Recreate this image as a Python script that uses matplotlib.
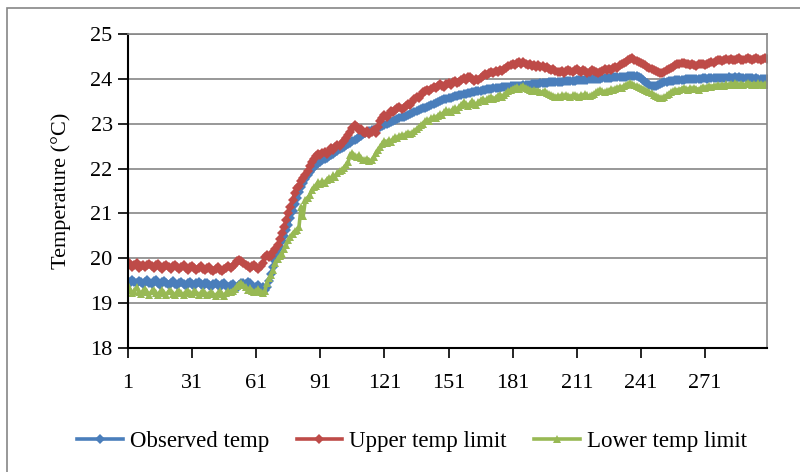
"""
Observed room temperature against the upper and lower comfort limits.

Excel-style line chart with a marker on every sample.
"""

import numpy as np
import matplotlib
matplotlib.use("Agg")
import matplotlib.pyplot as plt
from matplotlib.patches import Rectangle

# Sample index runs 1..300, labelled every 30 samples
x_tick_labels = ["1", "31", "61", "91", "121", "151", "181", "211", "241", "271"]
y_ticks = [18, 19, 20, 21, 22, 23, 24, 25]
series_names = ["Observed temp", "Upper temp limit", "Lower temp limit"]

observed_temp = [
    19.50, 19.45, 19.52, 19.48, 19.44, 19.50, 19.47, 19.42, 19.48, 19.51,
    19.46, 19.43, 19.49, 19.52, 19.45, 19.41, 19.47, 19.50, 19.44, 19.40,
    19.46, 19.49, 19.43, 19.40, 19.45, 19.48, 19.42, 19.39, 19.44, 19.47,
    19.43, 19.38, 19.45, 19.48, 19.42, 19.39, 19.44, 19.46, 19.41, 19.37,
    19.43, 19.46, 19.40, 19.36, 19.42, 19.44, 19.38, 19.35, 19.40, 19.43,
    19.37, 19.34, 19.40, 19.44, 19.46, 19.42, 19.48, 19.45, 19.38, 19.33,
    19.36, 19.40, 19.32, 19.35, 19.30, 19.35, 19.50, 19.65, 19.80, 19.95,
    20.10, 20.25, 20.38, 20.50, 20.62, 20.74, 20.90, 21.05, 21.20, 21.35,
    21.47, 21.58, 21.68, 21.77, 21.85, 21.92, 21.98, 22.04, 22.08, 22.12,
    22.15, 22.18, 22.21, 22.24, 22.27, 22.30, 22.33, 22.36, 22.40, 22.43,
    22.46, 22.49, 22.52, 22.55, 22.58, 22.61, 22.64, 22.67, 22.70, 22.73,
    22.76, 22.79, 22.81, 22.83, 22.85, 22.87, 22.89, 22.91, 22.93, 22.95,
    22.97, 23.00, 23.02, 23.04, 23.06, 23.08, 23.10, 23.12, 23.14, 23.16,
    23.18, 23.20, 23.22, 23.24, 23.26, 23.28, 23.30, 23.32, 23.34, 23.36,
    23.38, 23.40, 23.42, 23.44, 23.46, 23.48, 23.50, 23.52, 23.54, 23.56,
    23.57, 23.58, 23.60, 23.61, 23.62, 23.63, 23.64, 23.66, 23.67, 23.68,
    23.69, 23.70, 23.71, 23.72, 23.73, 23.74, 23.75, 23.76, 23.77, 23.78,
    23.78, 23.79, 23.79, 23.80, 23.80, 23.81, 23.81, 23.82, 23.82, 23.83,
    23.83, 23.84, 23.84, 23.85, 23.85, 23.86, 23.86, 23.87, 23.87, 23.88,
    23.88, 23.89, 23.89, 23.90, 23.90, 23.91, 23.91, 23.92, 23.92, 23.93,
    23.93, 23.93, 23.94, 23.94, 23.95, 23.95, 23.95, 23.96, 23.96, 23.96,
    23.97, 23.97, 23.97, 23.98, 23.98, 23.98, 23.99, 23.99, 23.99, 24.00,
    24.00, 24.00, 24.01, 24.01, 24.02, 24.02, 24.02, 24.03, 24.03, 24.04,
    24.04, 24.04, 24.05, 24.05, 24.06, 24.06, 24.07, 24.07, 24.06, 24.05,
    24.02, 23.98, 23.94, 23.90, 23.87, 23.85, 23.84, 23.85, 23.87, 23.89,
    23.91, 23.93, 23.94, 23.95, 23.96, 23.96, 23.97, 23.97, 23.98, 23.98,
    23.98, 23.99, 23.99, 23.99, 24.00, 24.00, 24.00, 23.99, 24.00, 24.01,
    24.01, 24.00, 24.01, 24.01, 24.02, 24.01, 24.02, 24.02, 24.01, 24.02,
    24.02, 24.03, 24.02, 24.02, 24.03, 24.02, 24.03, 24.02, 24.02, 24.01,
    24.02, 24.01, 24.01, 24.00, 24.01, 24.00, 24.00, 23.99, 24.00, 23.99,
]

upper_limit = [
    19.92, 19.88, 19.80, 19.85, 19.90, 19.78, 19.83, 19.86, 19.80, 19.84,
    19.88, 19.82, 19.78, 19.84, 19.87, 19.81, 19.76, 19.82, 19.85, 19.80,
    19.77, 19.83, 19.86, 19.80, 19.76, 19.81, 19.84, 19.79, 19.75, 19.80,
    19.83, 19.78, 19.74, 19.79, 19.82, 19.77, 19.73, 19.78, 19.81, 19.75,
    19.72, 19.77, 19.80, 19.74, 19.71, 19.76, 19.79, 19.82, 19.78, 19.83,
    19.88, 19.93, 19.97, 19.95, 19.90, 19.86, 19.82, 19.78, 19.83, 19.85,
    19.80, 19.76, 19.82, 19.90, 20.02, 20.08, 20.02, 20.06, 20.14, 20.20,
    20.30, 20.42, 20.56, 20.70, 20.85, 21.00, 21.15, 21.30, 21.45, 21.56,
    21.62, 21.72, 21.80, 21.85, 21.95, 22.05, 22.15, 22.22, 22.28, 22.32,
    22.30, 22.35, 22.38, 22.33, 22.40, 22.45, 22.42, 22.48, 22.52, 22.50,
    22.57, 22.62, 22.68, 22.75, 22.82, 22.90, 22.97, 22.92, 22.85, 22.88,
    22.82, 22.79, 22.84, 22.78, 22.82, 22.86, 22.80, 22.92, 23.05, 23.12,
    23.20, 23.15, 23.22, 23.28, 23.25, 23.30, 23.35, 23.38, 23.32, 23.36,
    23.40, 23.45, 23.42, 23.48, 23.55, 23.60, 23.58, 23.65, 23.70, 23.72,
    23.75, 23.74, 23.78, 23.82, 23.80, 23.84, 23.88, 23.85, 23.82, 23.88,
    23.90, 23.86, 23.92, 23.95, 23.90, 23.94, 23.98, 24.02, 23.98, 24.03,
    24.05, 24.00, 23.96, 23.99, 23.97, 24.02, 24.06, 24.10, 24.08, 24.12,
    24.15, 24.12, 24.18, 24.15, 24.20, 24.17, 24.22, 24.25, 24.28, 24.30,
    24.33, 24.30, 24.35, 24.37, 24.33, 24.37, 24.34, 24.30, 24.32, 24.28,
    24.30, 24.27, 24.30, 24.26, 24.28, 24.25, 24.27, 24.23, 24.20, 24.22,
    24.18, 24.16, 24.15, 24.18, 24.14, 24.17, 24.20, 24.18, 24.16, 24.19,
    24.21, 24.18, 24.16, 24.19, 24.17, 24.14, 24.16, 24.19, 24.17, 24.15,
    24.13, 24.15, 24.18, 24.21, 24.19, 24.22, 24.20, 24.24, 24.27, 24.25,
    24.30, 24.33, 24.36, 24.38, 24.42, 24.44, 24.46, 24.43, 24.40, 24.38,
    24.36, 24.33, 24.30, 24.27, 24.24, 24.22, 24.19, 24.17, 24.15, 24.14,
    24.13, 24.16, 24.19, 24.22, 24.25, 24.27, 24.30, 24.32, 24.34, 24.35,
    24.36, 24.34, 24.32, 24.30, 24.33, 24.31, 24.29, 24.32, 24.34, 24.32,
    24.30, 24.33, 24.36, 24.38, 24.36, 24.39, 24.41, 24.43, 24.40, 24.42,
    24.44, 24.42, 24.45, 24.43, 24.41, 24.44, 24.46, 24.43, 24.42, 24.44,
    24.46, 24.44, 24.43, 24.45, 24.47, 24.44, 24.42, 24.45, 24.46, 24.44,
]

lower_limit = [
    19.40, 19.30, 19.22, 19.28, 19.35, 19.25, 19.20, 19.27, 19.32, 19.24,
    19.19, 19.26, 19.30, 19.23, 19.18, 19.25, 19.29, 19.22, 19.19, 19.26,
    19.28, 19.21, 19.18, 19.24, 19.27, 19.22, 19.19, 19.25, 19.28, 19.23,
    19.20, 19.26, 19.24, 19.19, 19.22, 19.27, 19.23, 19.18, 19.21, 19.25,
    19.20, 19.16, 19.22, 19.26, 19.21, 19.17, 19.23, 19.27, 19.24, 19.28,
    19.32, 19.38, 19.42, 19.44, 19.40, 19.35, 19.30, 19.33, 19.28, 19.24,
    19.27, 19.31, 19.25, 19.22, 19.26, 19.45, 19.55, 19.62, 19.75, 19.90,
    19.98, 20.05, 20.10, 20.20, 20.30, 20.40, 20.48, 20.55, 20.60, 20.63,
    20.70, 21.15, 20.95, 21.30, 21.35, 21.40, 21.52, 21.58, 21.62, 21.70,
    21.66, 21.72, 21.68, 21.75, 21.80, 21.77, 21.85, 21.82, 21.90, 21.95,
    21.97, 22.02, 22.08, 22.15, 22.30, 22.35, 22.28, 22.25, 22.30, 22.23,
    22.20, 22.18, 22.22, 22.17, 22.19, 22.25, 22.35, 22.42, 22.48, 22.55,
    22.62, 22.58, 22.64, 22.60, 22.66, 22.70, 22.68, 22.72, 22.75, 22.73,
    22.76, 22.80, 22.78, 22.79, 22.84, 22.88, 22.92, 22.96, 23.00, 23.05,
    23.08, 23.06, 23.12, 23.15, 23.13, 23.18, 23.22, 23.20, 23.26, 23.30,
    23.28, 23.25, 23.32, 23.35, 23.30, 23.38, 23.42, 23.48, 23.45, 23.40,
    23.44, 23.50, 23.46, 23.42, 23.48, 23.52, 23.55, 23.50, 23.54, 23.57,
    23.60, 23.55, 23.58, 23.62, 23.65, 23.60, 23.64, 23.68, 23.72, 23.75,
    23.78, 23.80, 23.82, 23.78, 23.82, 23.84, 23.80, 23.78, 23.76, 23.74,
    23.75, 23.72, 23.74, 23.71, 23.70, 23.72, 23.68, 23.66, 23.64, 23.62,
    23.60, 23.62, 23.60, 23.63, 23.61, 23.64, 23.62, 23.60, 23.63, 23.65,
    23.62, 23.60, 23.64, 23.62, 23.66, 23.63, 23.61, 23.64, 23.67, 23.70,
    23.72, 23.75, 23.73, 23.70, 23.72, 23.74, 23.77, 23.75, 23.78, 23.80,
    23.82, 23.80, 23.84, 23.86, 23.88, 23.90, 23.88, 23.86, 23.84, 23.82,
    23.80, 23.78, 23.75, 23.72, 23.70, 23.68, 23.65, 23.62, 23.60, 23.58,
    23.57, 23.60, 23.63, 23.67, 23.70, 23.72, 23.75, 23.74, 23.76, 23.78,
    23.80, 23.78, 23.76, 23.79, 23.77, 23.80, 23.78, 23.76, 23.79, 23.81,
    23.80, 23.82, 23.84, 23.82, 23.85, 23.83, 23.86, 23.84, 23.87, 23.85,
    23.88, 23.86, 23.89, 23.87, 23.90, 23.88, 23.86, 23.89, 23.87, 23.88,
    23.90, 23.88, 23.86, 23.89, 23.87, 23.90, 23.88, 23.86, 23.88, 23.87,
]

# Excel 2007 default palette
colors = ["#4A7EBB", "#BE4B48", "#98B954"]
markers = ["D", "D", "^"]

plt.rcParams["font.family"] = ["Liberation Serif", "DejaVu Serif"]
plt.rcParams["font.size"] = 16

fig = plt.figure(figsize=(8, 4.72), dpi=100)
ax = fig.add_axes([0.16, 0.2627, 0.79875, 0.6653])

# Outer chart-area frame (only left/top edges are inside the image)
fig.patches.append(Rectangle((7 / 800, -0.05), 1.0, 1 - 8 / 472 + 0.05,
                             transform=fig.transFigure, fill=False,
                             edgecolor="#868686", lw=1.2))

sample = np.arange(1, len(observed_temp) + 1)
all_series = [observed_temp, upper_limit, lower_limit]

for name, values, color, marker in zip(series_names, all_series, colors, markers):
    ax.plot(sample, values, color=color, lw=2.6, marker=marker,
            markersize=5.2 if marker == "D" else 6.2,
            markeredgewidth=0, label=name)

ax.set_xlim(1, len(observed_temp))
ax.set_ylim(y_ticks[0], y_ticks[-1])
ax.set_yticks(y_ticks)
ax.set_xticks([int(t) for t in x_tick_labels])
ax.set_xticklabels(x_tick_labels)

ax.grid(axis="y", color="#868686", lw=1.2)
ax.set_axisbelow(True)

for side in ["top", "right"]:
    ax.spines[side].set_color("#868686")
    ax.spines[side].set_linewidth(1.2)
for side in ["left", "bottom"]:
    ax.spines[side].set_color("black")
    ax.spines[side].set_linewidth(1.5)

ax.tick_params(axis="both", direction="out", length=7, width=1.2)
ax.tick_params(axis="x", pad=12)
ax.tick_params(axis="y", pad=4)
ax.set_ylabel("Temperature (°C)", labelpad=14)

fig.legend(loc="center", bbox_to_anchor=(0.515, 1 - 441 / 472), ncol=3,
           frameon=False, handlelength=2.0, handletextpad=0.3, columnspacing=1.2,
           fontsize=16.5)

fig.savefig("out.png", dpi=100)
